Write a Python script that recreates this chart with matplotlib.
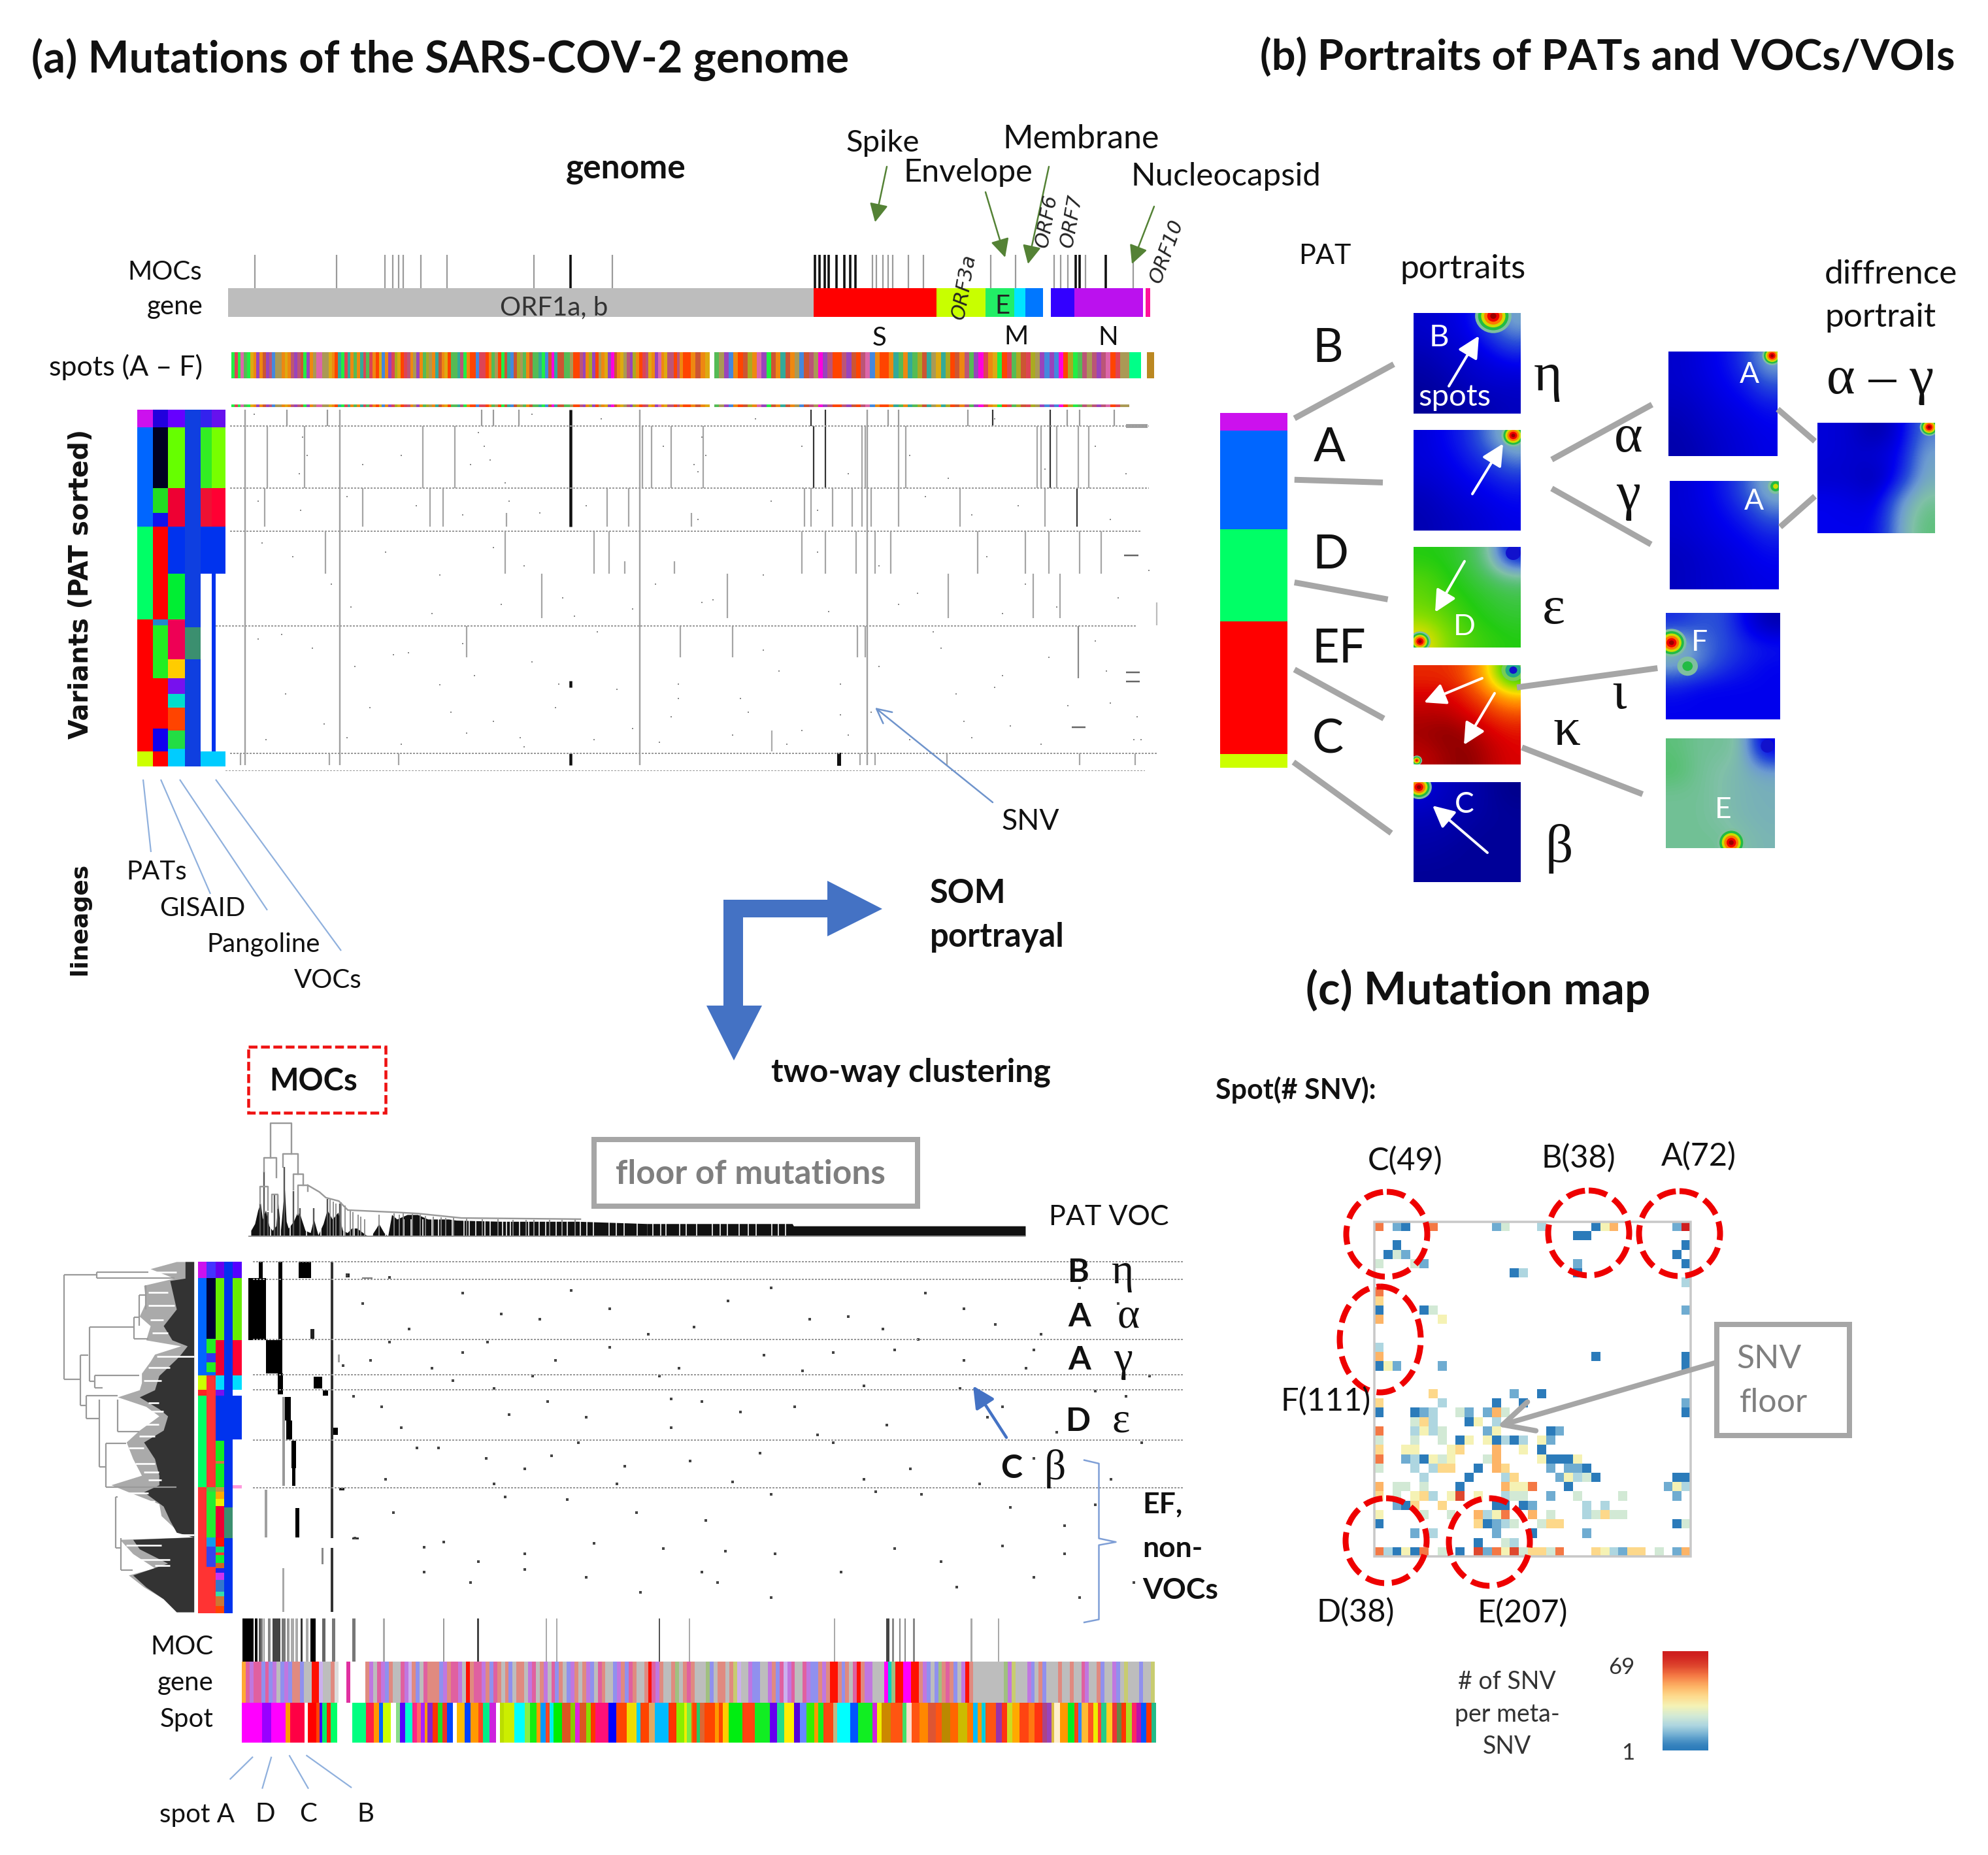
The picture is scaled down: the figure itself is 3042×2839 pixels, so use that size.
import numpy as np
import matplotlib
matplotlib.use("Agg")
import matplotlib.pyplot as plt
from matplotlib.colors import LinearSegmentedColormap
from matplotlib.patches import Ellipse, Rectangle, Polygon, FancyArrowPatch, Circle

W, H = 3042, 2839
PT = 0.72  # pixel -> point at dpi 100

# ---------- (a) genome tracks (read units along the genome) ----------
gene_edges = [(296, 1055), (1055, 1215), (1215, 1278), (1278, 1316), (1316, 1330), (1330, 1353), (1363, 1394), (1394, 1483), (1486, 1492)]
gene_colors = ["#bdbdbd", "#ff0000", "#c8ff00", "#22ee66", "#00e5ff", "#0077ff", "#3300ff", "#bb11ee", "#ff1199"]
moc_thin = [331, 437, 499, 510, 517, 523, 546, 580, 693, 794, 1132, 1137, 1145, 1152, 1158, 1178, 1198, 1285, 1317, 1367, 1376, 1385, 1408, 1470]
moc_dark = [740, 1057, 1063, 1070, 1075, 1085, 1095, 1103, 1110, 1395, 1400, 1434]

spot_palette = dict(o="#ee8811", n="#55bb55", r="#dd4455", t="#33aa99", b="#4488dd", v="#9944bb", m="#ff00dd",
                    y="#aaaa22", p="#dd66aa", g="#22ee44", k="#aa9955", d="#cc5533", u="#bb5577", a="#ddaa11", e="#ff4400")
spots_left = "grgpngaovodvubkkoaouvudgvokppkkaoetgrtonotrnroeabovryaeruokvonykotdoaenntugoeebrreonkegdtbdyknodnntgbdmtddnnkeeuvoyvekoavmdoakuvyoeruaovpoauueuoe"
spots_right = "eodoa.nkvboedyopvgdotdokbdukmvueeuvdeupboeeotnotnydtkatyedounvmroagernydrykvbvbmeygnukuvuperkk"
spots_end_colors = ["#00ff88", "#bb8822"]
spots_end_edges = [(1465, 1480), (1488, 1497)]

# ---------- (a) SNV heatmap, genome column vs variant row ----------
strip_edges = [(178, 198), (198, 218), (218, 240), (240, 260), (260, 275), (275, 292)]
strip_rows = [
    [(680, 718, "#cc11ee"), (718, 935, "#0066ff"), (935, 1137, "#00ff66"), (1137, 1425, "#ff0000"), (1425, 1458, "#ccff00")],
    [(680, 718, "#2200dd"), (718, 851, "#000022"), (851, 905, "#22dd22"), (905, 935, "#1111ee"), (935, 1137, "#ff0000"), (1137, 1150, "#2288cc"), (1150, 1265, "#22ee22"), (1265, 1375, "#ff0000"), (1375, 1425, "#1100ee"), (1425, 1458, "#ff0000")],
    [(680, 718, "#6600ff"), (718, 851, "#66ff00"), (851, 935, "#ee0033"), (935, 1037, "#0033ee"), (1037, 1137, "#00ee33"), (1137, 1225, "#ee0055"), (1225, 1265, "#ffcc00"), (1265, 1300, "#7711ee"), (1300, 1330, "#00ddcc"), (1330, 1380, "#ff4400"), (1380, 1420, "#22dd44"), (1420, 1458, "#00ccff")],
    [(680, 1155, "#0f3fe0"), (1155, 1225, "#3b8f6f"), (1225, 1458, "#0f3fe0")],
    [(680, 718, "#3322ee"), (718, 851, "#33ee22"), (851, 935, "#ee1133"), (935, 1037, "#0033ee"), (1425, 1458, "#00ccff")],
    [(680, 718, "#6611ee"), (718, 851, "#77ff00"), (851, 935, "#ff0033"), (935, 1037, "#0033ee"), (1037, 1425, "#0033ee"), (1425, 1458, "#00ccff")],
]
top_seps = [716, 851, 945, 1151, 1430, 1468]
full_cols = [318, 441, 830, 1125]
top_segments = [
    (680, 716, [372, 425, 625, 640, 673, 1152, 1165, 1255, 1384, 1400, 1445], "#9a9a9a"),
    (680, 716, [1052, 1070, 1287, 1362], "#333333"),
    (716, 851, [347, 395, 548, 590, 833, 845, 870, 912, 1118, 1122, 1165, 1175, 1345, 1350, 1370, 1398, 1412], "#a5a5a5"),
    (716, 851, [1055, 1070, 1362], "#333333"),
    (851, 935, [343, 470, 558, 575, 787, 815, 1043, 1052, 1080, 1105, 1118, 1130, 1165, 1245, 1355], "#a5a5a5"),
    (851, 935, [1397], "#333333"),
    (905, 935, [657, 897], "#a5a5a5"),
    (945, 1037, [422, 655, 770, 790, 1040, 1070, 1110, 1135, 1155, 1268, 1330, 1360, 1400, 1428], "#a5a5a5"),
    (1010, 1037, [810, 875], "#a5a5a5"),
    (1037, 1135, [703, 943, 1230, 1340, 1375], "#a5a5a5"),
    (1151, 1220, [605, 882, 950, 1112, 1122], "#a5a5a5"),
    (1151, 1265, [1398], "#888888"),
    (1380, 1425, [1001], "#aaaaaa"),
    (1100, 1150, [1500], "#bbbbbb"),
    (1430, 1455, [312, 427, 517, 1115, 1135, 1228, 1400, 1472], "#a5a5a5"),
]
black_col = [740]
black_spans = [(680, 935), (1430, 1455), (1272, 1285)]
black_col2 = [1088]
black_span2 = (1428, 1456)
top_dash_x = [1473, 1470, 1470, 1400, 1468]
top_dash_y = [716, 1253, 1273, 1373, 998]
top_speck_x = [330, 372, 395, 470, 520, 590, 610, 655, 690, 780, 860, 900, 980, 1040, 1100, 1180, 1230, 1290, 1345, 1420, 1460,
               335, 390, 450, 540, 600, 660, 700, 760, 905, 1000, 1060, 1200, 1260, 1320, 1440,
               340, 380, 430, 500, 570, 640, 680, 730, 770, 850, 910, 990, 1060, 1140, 1190, 1280, 1330, 1370, 1450, 1490,
               335, 405, 460, 530, 600, 690, 725, 880, 950, 1010, 1090, 1140, 1220, 1300, 1360, 1420,
               370, 480, 570, 640, 720, 800, 870, 960, 1040, 1130, 1240, 1310, 1440, 1480,
               345, 450, 520, 605, 680, 770, 855, 950, 1020, 1180, 1260, 1350, 1470,
               392, 398, 388, 620, 628, 636, 910, 915, 905, 1345, 1350, 1355, 455, 560, 650, 745, 820, 925, 1075, 1165, 1300,
               365, 510, 615, 775, 880, 990, 1090, 1210, 1290, 1435, 420, 585, 675, 820, 970, 1100, 1250, 1385, 1475]
top_speck_y = [690, 700, 760, 800, 780, 750, 800, 840, 690, 700, 760, 800, 700, 760, 820, 780, 830, 700, 780, 760, 820,
               880, 900, 870, 890, 910, 880, 905, 890, 920, 880, 900, 870, 910, 890, 920,
               970, 1000, 1060, 990, 1040, 980, 1020, 1090, 1000, 1060, 1100, 1040, 990, 1020, 1080, 1000, 1060, 1110, 1090, 1030,
               1180, 1200, 1240, 1210, 1190, 1230, 1278, 1278, 1195, 1250, 1278, 1240, 1200, 1260, 1220, 1185,
               1300, 1330, 1280, 1360, 1330, 1290, 1350, 1310, 1380, 1340, 1300, 1370, 1320, 1400,
               1400, 1395, 1410, 1385, 1415, 1400, 1405, 1390, 1410, 1400, 1395, 1410, 1400,
               740, 780, 820, 730, 760, 790, 740, 780, 815, 730, 770, 810, 1110, 1125, 1105, 1130, 1115, 1095, 1120, 1105, 1125,
               1170, 1215, 1260, 1165, 1310, 1205, 1345, 1165, 1285, 1250, 1365, 1340, 1395, 1375, 1340, 1390, 1360, 1325, 1350]

# ---------- (a) lower block: clustered SNV table ----------
low_strip_edges = [(698, 738), (738, 778), (778, 818), (818, 858), (858, 900)]
low_strip_rows = [
    [(30, 100, "#cc11ee"), (100, 510, "#0066ff"), (510, 570, "#ccff00"), (570, 595, "#ff2222"), (595, 980, "#00ff66"), (980, 1510, "#ff3333")],
    [(30, 100, "#4433ff"), (100, 355, "#000033"), (355, 415, "#22ee22"), (415, 455, "#3333ee"), (455, 495, "#22ee22"), (495, 510, "#0066ff"), (510, 980, "#ff3333"), (980, 1000, "#44cc44"), (1000, 1190, "#22ee33"), (1190, 1230, "#1199ee"), (1230, 1315, "#3344ee"), (1315, 1510, "#ff3333")],
    [(30, 100, "#6600ee"), (100, 360, "#66ee00"), (360, 510, "#ee0033"), (510, 570, "#00ddff"), (570, 595, "#7711ee"), (595, 785, "#0033ee"), (785, 870, "#11ee22"), (870, 880, "#cc7744"), (880, 980, "#11ee22"), (980, 1000, "#bb9944"), (1000, 1030, "#ffaa00"), (1030, 1060, "#eeee00"), (1060, 1190, "#ee0033"), (1190, 1230, "#ff1100"), (1230, 1255, "#11dd66"), (1255, 1265, "#ff3333"), (1265, 1300, "#11ee33"), (1300, 1320, "#cc6622"), (1320, 1340, "#2222ee"), (1340, 1370, "#cc33ee"), (1370, 1420, "#3377cc"), (1420, 1440, "#33ddaa"), (1440, 1480, "#cc7733"), (1480, 1510, "#ff4400")],
    [(30, 1065, "#0033ee"), (1065, 1195, "#3b8f6f"), (1195, 1510, "#0033ee")],
    [(30, 100, "#5500ff"), (100, 360, "#66ee00"), (360, 510, "#ff0033"), (510, 570, "#00ddff"), (595, 780, "#0033ee"), (970, 985, "#ff99dd")],
]
low_seps = [30, 105, 358, 505, 570, 782, 982]
low_blocks = [
    (930, 1010, 100, 360, "black"), (1010, 1085, 360, 500, "black"), (978, 996, 30, 100, "black"), (1068, 1086, 30, 360, "black"),
    (1160, 1218, 30, 100, "black"), (1063, 1088, 500, 590, "black"), (1090, 1125, 600, 700, "black"), (1102, 1130, 700, 780, "black"),
    (1128, 1148, 785, 900, "black"), (1130, 1146, 900, 975, "black"), (1230, 1268, 515, 565, "black"), (1272, 1295, 572, 595, "black"),
    (1215, 1232, 315, 355, "#222222"), (1310, 1340, 730, 760, "black"), (1145, 1162, 1068, 1192, "black"),
    (1085, 1097, 600, 975, "#999999"), (1005, 1015, 990, 1190, "#a0a0a0"), (1085, 1093, 1320, 1505, "#a8a8a8"), (1265, 1275, 1235, 1305, "#888888"),
    (1306, 1320, 30, 1195, "#333333"), (1306, 1320, 1235, 1505, "#333333"), (1340, 1348, 420, 455, "#a0a0a0"),
    (1345, 1370, 982, 994, "#222222"), (1405, 1435, 1190, 1200, "#333333"), (1450, 1500, 96, 102, "#777777"), (1375, 1395, 80, 95, "#222222"),
]
low_speck_x = [450, 505, 600, 700, 790, 944, 1050, 1145, 1250, 1350, 1450, 445, 505, 560, 632, 720, 855, 1080, 1190, 1250, 1340, 1490,
               458, 495, 587, 640, 710, 760, 870, 910, 1030, 1120, 1245, 1300, 1420, 1460,
               540, 568, 630, 680, 715, 810, 895, 985, 1080, 1180, 1340, 1480,
               510, 655, 735, 825, 915, 1000, 1135, 1195, 1310, 1380, 1420,
               460, 550, 575, 620, 680, 770, 860, 940, 1005, 1160, 1220, 1300, 1380,
               550, 610, 680, 760, 830, 910, 930, 1000, 1090, 1240, 1340, 1400, 1470,
               470, 530, 650, 740, 840, 900, 1000, 1100, 1200, 1290, 1400, 480, 600, 690, 790, 880, 990, 1040, 1160, 1330,
               520, 660, 750, 870, 960, 1060, 1150, 1280, 1370, 500, 640, 800, 950, 1120, 1270, 1440]
low_speck_y = [445, 450, 480, 530, 510, 495, 530, 550, 510, 560, 500, 620, 575, 625, 575, 610, 640, 595, 570, 610, 590, 640,
               680, 700, 650, 665, 690, 720, 685, 690, 700, 660, 665, 700, 670, 680,
               780, 780, 800, 820, 795, 815, 805, 790, 770, 820, 800, 770,
               905, 875, 880, 905, 920, 870, 865, 870, 895, 930, 890,
               955, 972, 962, 1000, 985, 965, 975, 980, 985, 975, 1000, 970, 985,
               1020, 1040, 1015, 1030, 1060, 1020, 1040, 1070, 1020, 1050, 1030, 1070, 1040,
               500, 550, 520, 475, 560, 545, 470, 525, 480, 540, 470, 610, 595, 640, 585, 625, 600, 630, 590, 625,
               740, 715, 770, 740, 710, 755, 735, 720, 750, 840, 850, 850, 845, 840, 850, 840]

top_dend_x = [35, 50, 62, 72, 80, 92, 105, 118, 132, 140, 150, 165, 172, 180, 200, 215, 225, 245, 265, 278, 295, 315, 330, 350, 372, 390, 408, 425, 445, 480, 500, 520, 530, 550, 565, 580, 600, 640, 680, 720, 800, 830, 1000, 1300, 1568]
top_dend_y = [520, 490, 430, 400, 470, 430, 500, 520, 500, 400, 520, 330, 480, 510, 480, 440, 450, 520, 530, 470, 540, 490, 430, 470, 440, 520, 530, 510, 510, 540, 545, 510, 490, 530, 545, 450, 470, 450, 450, 470, 470, 475, 480, 480, 490]
top_dend_gaps = [112, 148, 188, 250, 305, 395, 435, 490, 505, 555, 628, 655, 700, 735, 760, 815, 860, 880, 905, 940, 960, 1010, 1025, 1040, 1075, 1110, 1130, 1150, 1175, 1215, 1240, 1260, 1310, 1335, 1360, 1420, 1450, 1480, 1530,
                 1590, 1620, 1640, 1695, 1720, 1760, 1820, 1850, 1880, 1925, 1960, 1990, 2050, 2075, 2105]
td_ext_x = [1568, 2130, 2135, 3032]
td_ext_y = [490, 490, 500, 500]
dend_links_x = [[110, 110, 192, 192], [85, 85, 135, 135], [160, 160, 218, 218], [200, 200, 238, 238], [70, 70, 100, 100], [115, 115, 140, 140], [218, 218, 255, 255]]
dend_links_y = [[200, 45, 45, 183], [260, 200, 200, 285], [240, 183, 183, 270], [340, 270, 270, 320], [400, 325, 325, 430], [440, 362, 362, 420], [450, 320, 320, 345]]
dend_tail_x = [255, 300, 325, 375, 410, 600, 680, 850, 1310]
dend_tail_y = [320, 350, 375, 390, 430, 440, 445, 465, 470]
dend_spike_x = [70, 85, 100, 125, 140, 165, 200, 225, 278, 330, 380]
dend_spike_top = [400, 260, 440, 362, 365, 240, 345, 420, 420, 380, 400]
dend_hair_x = [340, 355, 365, 385, 400, 420, 430, 450, 460, 475, 530, 590, 610, 625, 660, 690, 710, 740, 770, 790, 820, 870, 930, 990, 1050, 1100, 1130, 1190, 1240, 1290]
dend_hair_top = [385, 392, 400, 395, 410, 430, 440, 450, 460, 470, 450, 445, 450, 445, 447, 450, 455, 460, 462, 465, 466, 468, 470, 470, 472, 472, 472, 472, 472, 472]

left_dend_y = [30, 60, 100, 130, 200, 260, 300, 360, 385, 420, 450, 500, 540, 570, 600, 640, 680, 740, 790, 860, 930, 970, 1000, 1050, 1100, 1160, 1190, 1200, 1260, 1320, 1350, 1400, 1450, 1505]
left_dend_x = [600, 480, 590, 450, 460, 430, 480, 460, 620, 500, 480, 440, 440, 430, 330, 460, 520, 430, 370, 400, 440, 300, 380, 520, 530, 600, 670, 340, 400, 500, 380, 450, 540, 600]
left_core_y = [30, 100, 110, 230, 300, 360, 385, 420, 440, 510, 570, 600, 650, 680, 740, 790, 860, 930, 970, 1000, 1060, 1120, 1170, 1190, 1200, 1240, 1300, 1350, 1400, 1450, 1505]
left_core_x = [640, 640, 570, 600, 540, 580, 650, 620, 600, 520, 500, 430, 520, 560, 540, 450, 500, 520, 520, 450, 540, 570, 600, 680, 400, 430, 560, 400, 460, 540, 600]
left_streak_y = [75, 160, 215, 275, 330, 430, 475, 530, 625, 660, 715, 765, 815, 880, 915, 950, 1005, 1040, 1180, 1225, 1285, 1310]
left_streak_x0 = [480, 470, 470, 480, 490, 510, 470, 450, 470, 480, 450, 430, 380, 410, 450, 470, 350, 370, 600, 370, 430, 500]
left_streak_x1 = [600, 560, 590, 540, 560, 680, 570, 530, 520, 540, 520, 500, 450, 500, 520, 530, 470, 500, 680, 530, 570, 570]
left_links = [
    (85, 85, 525), (235, 75, 100), (160, 425, 635), (200, 305, 535), (405, 265, 355), (430, 170, 300), (225, 510, 560),
    (185, 595, 690), (245, 610, 895), (330, 610, 745), (275, 795, 980), (320, 1020, 1235), (345, 1195, 1330), (460, 130, 230),
]
left_hlinks = [(85, 235, 85), (85, 160, 525), (235, 470, 75), (235, 590, 100), (160, 195, 425), (160, 185, 635), (200, 405, 305), (200, 225, 535),
               (405, 430, 265), (405, 470, 355), (225, 430, 510), (225, 260, 560), (185, 330, 595), (185, 245, 690), (245, 275, 895),
               (330, 430, 745), (275, 370, 795), (275, 600, 980), (320, 345, 1235), (345, 400, 1330), (320, 330, 1020), (430, 460, 170)]

moc2_a_edges = [(25, 60), (65, 75), (78, 84), (86, 92), (94, 98), (110, 118), (125, 150), (155, 168), (172, 180), (185, 195), (200, 210), (218, 225), (235, 245), (250, 268), (290, 300), (323, 333), (390, 400), (492, 498), (692, 698), (806, 812), (1035, 1040), (1070, 1075), (1412, 1417), (1512, 1517)]
moc2_a_gray = ["black", "black", "#555", "#777", "#999", "#888", "#444", "#777", "#999", "#aaa", "#aaa", "#333", "#aaa", "black", "#666", "#777", "#777", "#aaa", "#999", "#444", "#aaa", "#aaa", "#555", "#aaa"]
moc2_b_edges = [(470, 474), (645, 655), (665, 672), (688, 693), (705, 710), (735, 740), (925, 932), (1017, 1022)]
moc2_b_gray = ["#aaa", "#444", "#888", "#888", "#888", "#888", "#aaa", "#aaa"]

gene2_palette = dict(a="#bdbdbd", p="#e060a0", v="#c077e0", s="#e08a80", b="#9090ee", g="#a0c080", y="#c8cc70", l="#cbb0ee",
                     r="#ff1100", m="#ff00ff", c="#00d0c0", o="#ffaa33", w="#dddddd", q="#e030a0", k="#77ccb0")
gene2_left = "opvppbpbvabvbssbaarrlaasw..q...."
gene2_mid = "svapvbsaapvlsbapsssbvsppvarsppvsbpsasbassavpasvapbsabvsasvbapsaabvsbpsaasrpvsaasgaspsaaagbassasylaavbbaavsbplvp"
gene2_right = "aapvbbsvsrrsbsaprsvvaaamcgrrmmrrsvbabgspsbavrsaaaaaaaagvyaaavbasbaaasaasaapvaasbaavbayaaabaay"

low_spot_a = [(22, 90, "#ff00ff"), (90, 120, "#9900ff"), (120, 168, "#ff00ff"), (168, 182, "#ff9900"), (182, 232, "#ff0044"), (232, 242, "#ffffff"), (242, 270, "#ff0000"), (270, 280, "#ff4400"), (280, 290, "#4400ff"), (290, 305, "#00ee66"), (305, 318, "#ff2200"), (318, 340, "#00ff66"), (390, 436, "#00ff80"), (436, 462, "#ff2244"), (462, 480, "#ff9900"), (480, 492, "#0066ff"), (492, 518, "#ccff00"), (518, 535, "#ffffff"), (535, 550, "#88dd88"), (550, 566, "#5500ff"), (566, 590, "#00ffcc"), (590, 606, "#ff2288"), (606, 618, "#ff6666"), (618, 632, "#aa22ff"), (632, 640, "#ff9900"), (640, 658, "#8822cc"), (658, 675, "#ff3300"), (675, 690, "#22dd22"), (690, 706, "#ee3322"), (706, 726, "#0044ff"), (726, 738, "#ffffff"), (738, 765, "#ffbb00"), (765, 785, "#0044ff"), (785, 810, "#ff9900"), (810, 826, "#ff4422"), (826, 848, "#00ee88"), (848, 870, "#cc22dd"), (870, 882, "#ffffff"), (882, 895, "#bbdd00"), (895, 930, "#ccee00"), (930, 965, "#00ffff"), (965, 982, "#88ee44"), (982, 1005, "#11ee11"), (1005, 1018, "#ff9900"), (1018, 1034, "#0099ff"), (1034, 1048, "#ff4422"), (1048, 1062, "#00eeee"), (1062, 1090, "#00ee00"), (1090, 1118, "#dd5522"), (1118, 1132, "#88cc00"), (1132, 1148, "#dd22dd"), (1148, 1170, "#dd5522"), (1170, 1185, "#88dd00"), (1185, 1200, "#ff3300"), (1200, 1245, "#ff1177"), (1245, 1270, "#0000ff"), (1270, 1305, "#ff4400"), (1305, 1338, "#eedd00"), (1338, 1350, "#00ccff"), (1350, 1380, "#ff4400"), (1380, 1398, "#ddaa66"), (1398, 1445, "#00bbff"), (1445, 1470, "#ff3300"), (1470, 1496, "#88ee00"), (1496, 1505, "#eeee00"), (1505, 1520, "#77ee44"), (1520, 1535, "#ff6600"), (1535, 1550, "#00bb88")]
low_spot_b = [(0, 14, "#ff4400"), (14, 24, "#22cc66"), (24, 40, "#dd6633"), (40, 75, "#ff4400"), (75, 88, "#ff9900"), (88, 100, "#ff4400"), (100, 120, "#ffcc00"), (120, 165, "#00ee11"), (165, 208, "#ff4411"), (208, 258, "#11ee22"), (258, 282, "#6600ee"), (282, 305, "#22dd88"), (305, 338, "#ffee00"), (338, 358, "#5500dd"), (358, 378, "#6688ff"), (378, 405, "#33ee00"), (405, 418, "#ff9900"), (418, 435, "#11ee22"), (435, 468, "#ff4411"), (468, 482, "#bbbb88"), (482, 525, "#00ffff"), (525, 552, "#0055ff"), (552, 600, "#11ee22"), (600, 615, "#cc22dd"), (615, 630, "#eeee00"), (630, 660, "#cc8800"), (660, 700, "#ff5511"), (700, 712, "#44dd66"), (712, 730, "#ffddcc"), (730, 755, "#ff5511"), (755, 785, "#ff8800"), (785, 810, "#dd5533"), (810, 830, "#ff5511"), (830, 858, "#bb8800"), (858, 885, "#ff6600"), (885, 915, "#ccbb00"), (915, 935, "#ff7700"), (935, 950, "#00bbff"), (950, 962, "#ff9900"), (962, 975, "#00ccdd"), (975, 1010, "#ff5511"), (1010, 1030, "#9933aa"), (1030, 1048, "#ff3311"), (1048, 1065, "#ccdd22"), (1065, 1090, "#ffaa00"), (1090, 1120, "#ff4411"), (1120, 1140, "#ff7711"), (1140, 1165, "#ff3311"), (1165, 1180, "#aa4488"), (1180, 1195, "#9944bb"), (1195, 1205, "#ddbb44"), (1205, 1225, "#ffeecc"), (1225, 1250, "#ff9900"), (1250, 1272, "#00ee22"), (1272, 1285, "#ff4411"), (1285, 1297, "#3388ff"), (1297, 1318, "#ffbb33"), (1318, 1335, "#ff5522"), (1335, 1350, "#eeee00"), (1350, 1362, "#ff4433"), (1362, 1378, "#22cc88"), (1378, 1398, "#ffcc22"), (1398, 1415, "#ee3333"), (1415, 1430, "#668844"), (1430, 1445, "#ff3300"), (1445, 1465, "#aadd22"), (1465, 1480, "#ff2266"), (1480, 1495, "#bb11aa"), (1495, 1512, "#0055ff"), (1512, 1530, "#ff3300"), (1530, 1545, "#22bb88")]

# ---------- (b) portraits: coarse value grids and spots ----------
portrait_boxes = dict(B=(2163, 479, 2327, 633), A=(2163, 658, 2327, 812), D=(2163, 837, 2327, 991), EF=(2163, 1018, 2327, 1170), C=(2163, 1197, 2327, 1350),
                      alpha=(2553, 538, 2720, 698), gamma=(2555, 736, 2722, 902), F=(2549, 938, 2724, 1101), E=(2549, 1130, 2716, 1298), diff=(2781, 647, 2961, 816))
portrait_grids = dict(
    B=[[.10, .12, .15, .25, .35], [.08, .10, .12, .18, .25], [.05, .08, .10, .12, .15], [.03, .05, .08, .10, .10], [.02, .03, .05, .06, .08]],
    A=[[.12, .16, .20, .30, .40], [.12, .14, .18, .22, .30], [.10, .12, .15, .17, .20], [.07, .10, .12, .14, .16], [.06, .08, .10, .12, .14]],
    D=[[.55, .54, .50, .42, .16], [.60, .56, .52, .48, .44], [.62, .58, .55, .52, .50], [.66, .62, .57, .54, .52], [.76, .66, .60, .57, .55]],
    EF=[[.90, .90, .87, .78, .50], [.93, .93, .90, .86, .80], [.96, .96, .93, .90, .88], [.98, 1.0, .98, .94, .92], [.95, .98, 1.0, .96, .93]],
    C=[[.12, .08, .06, .03, .00], [.08, .06, .05, .03, .02], [.05, .05, .03, .02, .02], [.04, .03, .02, .02, .02], [.02, .02, .02, .02, .02]],
    alpha=[[.10, .13, .16, .22, .36], [.10, .12, .15, .18, .26], [.08, .10, .13, .15, .18], [.06, .09, .11, .13, .15], [.05, .07, .10, .12, .14]],
    gamma=[[.11, .14, .18, .26, .38], [.11, .13, .16, .20, .28], [.10, .12, .14, .16, .19], [.08, .10, .12, .14, .16], [.08, .10, .11, .13, .14]],
    F=[[.20, .25, .25, .14, .05], [.42, .30, .25, .20, .18], [.35, .30, .22, .18, .15], [.18, .15, .15, .15, .15], [.15, .15, .15, .15, .15]],
    E=[[.45, .42, .42, .40, .12], [.47, .42, .40, .38, .35], [.42, .42, .40, .38, .37], [.42, .42, .40, .38, .37], [.42, .42, .42, .40, .38]],
    diff=[[.12, .10, .04, .12, .30], [.12, .10, .12, .15, .35], [.10, .10, .05, .18, .36], [.15, .13, .12, .32, .42], [.15, .15, .15, .35, .45]],
)
hot_rings = ["#7fbf9f", "#22bb44", "#ccdd00", "#ff7700", "#ee0000", "#990000"]
cool_rings = ["#77cc55", "#22aa88", "#1111cc"]
portrait_spots = dict(
    B=[(.744, .03, .17, 6)], A=[(.93, .055, .11, 6)], D=[(.06, .94, .10, 6), (.93, .06, .07, -1)], EF=[(.93, .05, .11, -3), (.03, .96, .05, 5)],
    C=[(.05, .05, .12, 6)], alpha=[(.95, .04, .09, 6)], gamma=[(.97, .05, .07, 3)], F=[(.05, .28, .13, 6), (.19, .5, .09, 2)],
    E=[(.6, .95, .13, 6), (.93, .07, .06, -1)], diff=[(.95, .04, .08, 6)],
)
pat_edges = [632, 659, 810, 951, 1154, 1175]
pat_colors = ["#cc11ee", "#0066ff", "#00ff66", "#ff0000", "#ccff00"]

# ---------- (c) mutation map: row, column, number of SNV per meta-SNV ----------
lv = dict(b=1, m=12, l=21, g=28, y=35, o=42, O=48, r=56, R=62, X=69)
map_table = {
    0: "0r 2m 3b 6r 13m 14g 18l 24b 25y 26O 33m 34X", 1: "22b 23b", 2: "2b 34b", 3: "1b 2g 3m 33b", 4: "0g 4g 5m 22m 34b", 5: "15b 16l 22b",
    6: "34l", 7: "0r", 8: "0o", 9: "0b 5b 6g 34m", 10: "0O 7y", 13: "0l", 14: "0O 24b 34b", 15: "0b 1y 2m 7m 34b",
    18: "6o 15m 18b", 19: "0o 7l 13b 16b 34m", 20: "0b 4b 5m 6l 9g 10m 12m 13O 14g 34b", 21: "4g 5o 6l 10b 11y 13l",
    22: "0r 4l 5y 6l 7g 12m 13y 19b 20m", 23: "0g 4g 7g 9b 10y 12y 13b 14l 15b 16l 18y 19m", 24: "0o 3y 4y 8y 9o 13O 16y 18b",
    25: "0r 3m 4l 5b 6y 7g 8y 12g 13O 18y 19b 20b 21b 22y", 26: "0g 4l 6l 7o 8o 11b 13O 14o 19m 21m 22m 23b",
    27: "5l 10b 14l 15o 20m 21y 22l 23g 24b 33b 34b", 28: "0O 2g 3g 5g 9b 14O 15y 16y 17r 21b 32m 33y 34l",
    29: "0o 2g 4y 5o 6l 8y 9R 11y 14l 15g 16g 19m 22g 27g 33m", 30: "2m 3b 4o 7o 13b 14b 16b 17m 23l 25l",
    31: "0y 5g 8g 11O 12l 13y 14r 17O 19g 23l 24g 25o 26g 27g", 32: "0b 11o 12b 13m 14l 15g 18g 19o 20o 33b 34g",
    33: "4m 6l 13m 17b 23m", 34: "11b 14g 15l", 35: "0r 1l 2b 3y 4b 5r 7g 9b 11R 12m 13r 14y 15R 16g 17o 18o 19g 20r 24o 25y 26l 27m 28o 29o 31g 33m 34O",
}
map_colors = ["#2b7bba", "#70add2", "#aed6e0", "#d3ead5", "#f5f3b5", "#fed98b", "#fdb466", "#f57a45", "#e0492f", "#cf1e1e"]
map_levels = [1, 12, 21, 28, 35, 42, 48, 56, 62, 69]
map_nrows, map_ncols = 36, 35
circle_spec = [(2122, 1889, 62, 65), (2431, 1887, 62, 65), (2570, 1888, 62, 65), (2112, 2050, 62, 81), (2121, 2358, 62, 65), (2279, 2360, 62, 67)]

# ---------- drawing helpers ----------
plt.rcParams["font.family"] = ["Lato", "DejaVu Sans"]
fig = plt.figure(figsize=(W / 100, H / 100), dpi=100, facecolor="white")


def panel(x0, y0, x1, y1, xlim, ylim, z=1):
    a = fig.add_axes([x0 / W, 1 - y1 / H, (x1 - x0) / W, (y1 - y0) / H], zorder=z)
    a.set_xlim(*xlim)
    a.set_ylim(*ylim)
    a.axis("off")
    return a


ax = fig.add_axes([0, 0, 1, 1], zorder=10)
ax.set_xlim(0, W)
ax.set_ylim(H, 0)
ax.axis("off")
ax.patch.set_alpha(0)


def T(x, y, s, size=34, weight="normal", color="#111111", ha="center", va="center", rot=0, family=None, style="normal"):
    ax.text(x, y + (4 if rot == 0 else 0), s, fontsize=size, fontweight=weight, color=color, ha=ha, va=va, rotation=rot,
            family=family if family else ["Lato", "DejaVu Sans"], fontstyle=style)


def L(pts, color="#a6a6a6", px=8):
    xs, ys = zip(*pts)
    ax.plot(xs, ys, color=color, lw=px * PT, solid_capstyle="butt")


def ARW(p0, p1, color, px=3, head=16, style="-|>"):
    ax.add_patch(FancyArrowPatch(p0, p1, arrowstyle=f"{style},head_length={head * PT},head_width={head * PT * 0.5}",
                                 color=color, lw=px * PT, shrinkA=0, shrinkB=0, mutation_scale=1))


def stripes(a, edges, colors, y0, y1):
    for (x0, x1), c in zip(edges, colors):
        a.add_patch(Rectangle((x0, y0), x1 - x0, y1 - y0, facecolor=c, edgecolor="none"))


def letter_stripes(a, text, palette, x0, x1, y0, y1):
    w = (x1 - x0) / len(text)
    for i, ch in enumerate(text):
        if ch != ".":
            a.add_patch(Rectangle((x0 + i * w, y0), w, y1 - y0, facecolor=palette[ch], edgecolor="none", lw=0))


def z1(x, y): return (1.18 * x, 150 + 0.7015 * y)
def z2(x, y): return (1850 + 0.76 * x, 300 + 0.7015 * y)
def z3(x, y): return (1.18 * x, 1600 + 0.79 * y)


# ---------- titles ----------
T(48, 88, "(a) Mutations of the SARS-COV-2 genome", 48, "bold", ha="left")
T(1928, 83, "(b) Portraits of PATs and VOCs/VOIs", 46.5, "bold", ha="left")
T(1998, 1512, "(c) Mutation map", 50, "bold", ha="left")

# ---------- genome tracks ----------
gp = panel(349, 385, 1766, 490, (296, 1497), (490, 385))
stripes(gp, gene_edges, gene_colors, 441, 485)
gp.vlines(moc_thin, 390, 441, color="#9a9a9a", lw=2.2 * PT)
gp.vlines(moc_dark, 390, 441, color="#111111", lw=3.6 * PT)
T(*z1(718, 452), "ORF1a, b", 29, color="#333333")
T(*z1(1300, 448), "E", 29, color="#222222")
for x, y, s in [(1140, 518, "S"), (1318, 515, "M"), (1437, 517, "N")]:
    T(*z1(x, y), s, 29)
T(309, 413, "MOCs", 29, ha="right")
T(311, 466, "gene", 29, ha="right")
T(310, 558, "spots (A – F)", 31, ha="right")
T(958, 255, "genome", 37, "bold")
T(1351, 215, "Spike", 34)
T(1654, 209, "Membrane", 36)
T(1481, 260, "Envelope", 35)
T(1876, 266, "Nucleocapsid", 35.5)
for p0, p1 in [((1357, 255), (1339, 340)), ((1508, 294), (1538, 394)), ((1605, 255), (1573, 404)), ((1766, 316), (1732, 404))]:
    ARW(p0, p1, "#548235", 2.5, 24)
for x, y, s, r in [(1475, 439, "ORF3a", 80), (1602, 338, "ORF6", 80), (1640, 338, "ORF7", 80), (1785, 384, "ORF10", 70)]:
    T(x, y, s, 22, color="#222222", rot=r, family="DejaVu Sans", style="italic")

sp = panel(354, 539, 1766, 579, (300, 1497), (1, 0))
letter_stripes(sp, spots_left, spot_palette, 300, 890, 0, 1)
letter_stripes(sp, spots_right, spot_palette, 890, 1465, 0, 1)
stripes(sp, spots_end_edges, spots_end_colors, 0, 1)
sp2 = panel(354, 619, 1766, 623, (300, 1497), (1, 0))
letter_stripes(sp2, spots_left, spot_palette, 300, 890, 0, 1)
letter_stripes(sp2, spots_right, spot_palette, 890, 1465, 0, 1)

# ---------- upper heatmap ----------
hs = panel(210, 627, 1790, 1180, (178, 1517), (1468, 680))
for (x0, x1), col in zip(strip_edges, strip_rows):
    for y0, y1, c in col:
        hs.add_patch(Rectangle((x0, y0), x1 - x0, y1 - y0, facecolor=c, edgecolor="none"))
hs.add_patch(Rectangle((260, 1037), 15, 388, facecolor="white", edgecolor="none"))
hs.add_patch(Rectangle((280, 1037), 12, 388, facecolor="white", edgecolor="none"))
hs.vlines(full_cols, 680, 1455, color="#a0a0a0", lw=2.4 * PT)
for y0, y1, cols, shade in top_segments:
    hs.vlines(cols, y0, y1, color=shade, lw=2.2 * PT)
for y0, y1 in black_spans:
    hs.vlines(black_col, y0, y1, color="#111111", lw=4.5 * PT)
hs.vlines(black_col2, *black_span2, color="#111111", lw=6 * PT)
hs.hlines(top_dash_y[1:], [x - 10 for x in top_dash_x[1:]], [x + 8 for x in top_dash_x[1:]], color="#666666", lw=2.5 * PT)
hs.hlines(top_dash_y[:1], 1460, 1488, color="#a0a0a0", lw=6 * PT)
hs.scatter(top_speck_x, top_speck_y, s=4, marker="s", color="#888888", linewidths=0)
hs.hlines(top_seps, [298, 298, 298, 280, 298, 292], [1490, 1490, 1480, 1475, 1500, 1485], color="#9a9a9a", lw=2 * PT, linestyles=(0, (1.5, 1)))
T(124, 894, "Variants (PAT sorted)", 28.5, "bold", rot=90, family="DejaVu Sans")
T(122, 1406, "lineages", 26, "bold", rot=90, family="DejaVu Sans")
for s, x, y in [("PATs", 240, 1331), ("GISAID", 310, 1387), ("Pangoline", 403, 1441), ("VOCs", 502, 1496)]:
    T(x, y, s, 29)
for p0, p1 in [((219, 1193), (231, 1304)), ((246, 1193), (322, 1368)), ((275, 1193), (409, 1393)), ((330, 1193), (522, 1455))]:
    L([p0, p1], "#8fb0dd", 2.2)
T(1577, 1253, "SNV", 32)
ARW((1519, 1228), (1339, 1083), "#6f94cc", 2.5, 22, "->")

# ---------- elbow arrow ----------
ax.add_patch(Polygon([(1107, 1539), (1081, 1539), (1123, 1623), (1166, 1539), (1137, 1539), (1137, 1404), (1266, 1404), (1266, 1433), (1350, 1391), (1266, 1348), (1266, 1377), (1107, 1377)],
                     closed=True, facecolor="#4472c4", edgecolor="none"))
T(1423, 1363, "SOM", 36.5, "bold", ha="left")
T(1423, 1430, "portrayal", 36.5, "bold", ha="left")
T(1180, 1637, "two-way clustering", 36, "bold", ha="left")

# ---------- lower block ----------
ax.add_patch(Rectangle((380, 1602), 210, 101, fill=False, edgecolor="#ee1111", lw=4.5 * PT, linestyle=(0, (3, 1.2))))
T(480, 1651, "MOCs", 34, "bold")
ax.add_patch(Rectangle((909, 1744), 495, 102, facecolor="white", edgecolor="#a6a6a6", lw=8 * PT))
T(1148, 1794, "floor of mutations", 37, "bold", color="#7f7f7f")
T(1697, 1859, "PAT VOC", 31)

td = panel(380, 1710, 1600, 1897, (25, 25 + 1220 / 0.3954), (560, 20))
base = 545
td.fill_between(top_dend_x, top_dend_y, base, color="#111111", lw=0)
td.fill_between(td_ext_x, td_ext_y, base, color="#111111", lw=0)
td.vlines(top_dend_gaps, 470, base, color="white", lw=1.6 * PT)
td.vlines(dend_spike_x, dend_spike_top, base, color="#555555", lw=2.4 * PT)
td.vlines(dend_hair_x, dend_hair_top, base, color="#888888", lw=1.8 * PT)
for xs, ys in zip(dend_links_x, dend_links_y):
    td.plot(xs, ys, color="#999999", lw=2.4 * PT)
td.plot(dend_tail_x, dend_tail_y, color="#999999", lw=2.4 * PT)
td.hlines(base, 25, 3032, color="#999999", lw=2 * PT)

ld = panel(70, 1920, 300, 2475, (0, 690), (1527, 0))
ld.fill_betweenx(left_dend_y, left_dend_x, 680, color="#aaaaaa", lw=0)
ld.fill_betweenx(left_core_y, left_core_x, 680, color="#333333", lw=0)
ld.hlines(left_streak_y, left_streak_x0, left_streak_x1, color="white", lw=2.6 * PT)
for x, y0, y1 in left_links:
    ld.vlines(x, y0, y1, color="#999999", lw=2.2 * PT)
for x0, x1, y in left_hlinks:
    ld.hlines(y, x0, x1, color="#999999", lw=2.2 * PT)

lh = panel(303, 1920, 1810, 2475, (698, 698 + (1810 - 303) * 3), (1527, 0))
for (x0, x1), col in zip(low_strip_edges, low_strip_rows):
    for y0, y1, c in col:
        lh.add_patch(Rectangle((x0, y0), x1 - x0, y1 - y0, facecolor=c, edgecolor="none"))
for x0, x1, y0, y1, c in low_blocks:
    lh.add_patch(Rectangle((x0, y0), x1 - x0, y1 - y0, facecolor=c, edgecolor="none"))
lz_x = [(1.18 * x - 70) * 3 for x in low_speck_x]
lz_y = [(1600 + 0.79 * y - 1920) / 0.3635 for y in low_speck_y]
lh.scatter(lz_x, lz_y, s=5, marker="s", color="#444444", linewidths=0)
lh.hlines(low_seps, 950, 5220, color="#999999", lw=2 * PT, linestyles=(0, (1.5, 1)))

for (x1, x2, y, a_, g_) in [(1650, 1718, 1944, "B", "η"), (1652, 1727, 2012, "A", "α"), (1652, 1718, 2078, "A", "γ"), (1650, 1715, 2172, "D", "ε"), (1548, 1614, 2244, "C", "β")]:
    T(x1, y, a_, 36, "bold")
    T(x2, y, g_, 47, family="Liberation Serif")
T(1748, 2299, "EF,", 32, "bold", ha="left")
T(1748, 2366, "non-", 32, "bold", ha="left")
T(1748, 2430, "VOCs", 32, "bold", ha="left")
ARW((1540, 2200), (1489, 2121), "#4472c4", 4.5, 28)
bx = [(1405, 803), (1425, 810), (1425, 955), (1447, 962), (1425, 968), (1425, 1112), (1405, 1118)]
L([z3(*p) for p in bx], "#7f9fd6", 2.5)

ms = panel(360, 2477, 1780, 2543, (360, 1780), (1, 0))
for (x0, x1), c in zip(moc2_a_edges, moc2_a_gray):
    ms.add_patch(Rectangle((360 + x0 * .459, 0), (x1 - x0) * .459, 1, facecolor=c, edgecolor="none"))
for (x0, x1), c in zip(moc2_b_edges, moc2_b_gray):
    ms.add_patch(Rectangle((1060 + x0 * .459, 0), (x1 - x0) * .459, 1, facecolor=c, edgecolor="none"))

gs = panel(360, 2543, 1780, 2606, (360, 1780), (1, 0))
letter_stripes(gs, gene2_left + gene2_mid + gene2_right, gene2_palette, 370, 1767, 0, 1)

ss = panel(360, 2606, 1780, 2667, (360, 1780), (1, 0))
for x0, x1, c in low_spot_a:
    ss.add_patch(Rectangle((360 + x0 * .459, 0), (x1 - x0) * .459, 1, facecolor=c, edgecolor="none"))
for x0, x1, c in low_spot_b:
    ss.add_patch(Rectangle((1060 + x0 * .459, 0), (x1 - x0) * .459, 1, facecolor=c, edgecolor="none"))
T(327, 2516, "MOC", 29, ha="right")
T(327, 2572, "gene", 29, ha="right")
T(327, 2627, "Spot", 29, ha="right")
for x, s in [(301, "spot A"), (406, "D"), (472, "C"), (559, "B")]:
    T(x, 2773, s, 29)
for p0, p1 in [((328, 1378), (298, 1422)), ((352, 1378), (340, 1440)), ((375, 1375), (400, 1440)), ((397, 1375), (456, 1438))]:
    L([z3(*p0), z3(*p1)], "#8fb0dd", 2.2)

# ---------- (b) ----------
pb = panel(1867, 632, 1970, 1175, (0, 1), (1175, 632))
for y0, y1, c in zip(pat_edges[:-1], pat_edges[1:], pat_colors):
    pb.add_patch(Rectangle((0, y0), 1, y1 - y0, facecolor=c, edgecolor="none"))
por_cmap = LinearSegmentedColormap.from_list("por", [(0, "#00008c"), (.15, "#0000ee"), (.25, "#2a50d8"), (.33, "#6d9cd0"), (.40, "#80c0a8"),
                                                     (.46, "#55c070"), (.55, "#22cc11"), (.66, "#88dd00"), (.76, "#ffdd00"), (.85, "#ff7700"), (.93, "#dd0000"), (1, "#880000")])
for name, (x0, y0, x1, y1) in portrait_boxes.items():
    a = panel(x0, y0, x1, y1, (0, 1), (1, 0), z=2)
    a.imshow(portrait_grids[name], cmap=por_cmap, vmin=0, vmax=1, extent=(0, 1, 1, 0), interpolation="bicubic", aspect="auto")
    a.set_xlim(0, 1)
    a.set_ylim(1, 0)
    for cx, cy, r, kind in portrait_spots[name]:
        rings = hot_rings[:kind] if kind > 0 else cool_rings[kind:]
        n = len(rings)
        for i, c in enumerate(rings):
            a.add_patch(Circle((cx, cy), r * (1 - i / n), facecolor=c, edgecolor="none"))

for pts in [((172, 485), (372, 367)), ((172, 619), (350, 625)), ((172, 843), (360, 880)), ((172, 1033), (352, 1140)), ((170, 1235), (367, 1390)),
            ((690, 575), (892, 455)), ((690, 638), (890, 760)), ((620, 1072), (903, 1030)), ((630, 1203), (873, 1305)),
            ((1145, 465), (1220, 535)), ((1150, 722), (1220, 655))]:
    L([z2(*pts[0]), z2(*pts[1])], "#a6a6a6", 9)

T(2027, 388, "PAT", 31)
T(2239, 408, "portraits", 37)
T(2893, 416, "diffrence", 37)
T(2877, 482, "portrait", 37)
T(2877, 578, "α – γ", 60, family="Liberation Serif")
for x, y, s in [(2032, 530, "B"), (2034, 681, "A"), (2036, 846, "D"), (2049, 989, "EF"), (2032, 1128, "C")]:
    T(x, y, s, 52)
for x, y, s in [(2369, 573, "η"), (2377, 930, "ε"), (2386, 1295, "β"), (2492, 667, "α"), (2492, 755, "γ"), (2477, 1060, "ι"), (2397, 1116, "κ")]:
    T(x, y, s, 60, family="Liberation Serif")
for x, y, s, fs in [(2202, 513, "B", 34), (2226, 604, "spots", 34), (2677, 570, "A", 32), (2684, 764, "A", 32), (2601, 980, "F", 32), (2637, 1236, "E", 32), (2241, 956, "D", 32), (2241, 1227, "C", 32)]:
    T(x, y, s, fs, color="white")
for p0, p1 in [((2217, 591), (2263, 514)), ((2253, 756), (2300, 679)), ((2241, 859), (2196, 937)), ((2268, 1038), (2179, 1075)), ((2287, 1061), (2240, 1140)), ((2276, 1305), (2192, 1233))]:
    ARW(p0, p1, "white", 4, 28)

# ---------- (c) ----------
T(1860, 1664, "Spot(# SNV):", 31, "bold", ha="left")
map_cmap = LinearSegmentedColormap.from_list("mp", [((v - 1) / 68, c) for v, c in zip(map_levels, map_colors)])
grid = np.full((map_nrows, map_ncols), np.nan)
for r, row in map_table.items():
    for cell in row.split():
        grid[r, int(cell[:-1])] = lv[cell[-1]]
mp = panel(2103, 1870, 2587, 2382, (0, map_ncols), (map_nrows, 0))
mp.imshow(grid, cmap=map_cmap, vmin=1, vmax=69, extent=(0, map_ncols, map_nrows, 0), interpolation="nearest", aspect="auto")
mp.add_patch(Rectangle((0, 0), map_ncols, map_nrows, fill=False, edgecolor="#c8c8c8", lw=3.5 * PT, clip_on=False))
for cx, cy, rx, ry in circle_spec:
    ax.add_patch(Ellipse((cx, cy), rx * 2, ry * 2, fill=False, edgecolor="#ee0000", lw=9 * PT, linestyle=(0, (3.2, 1.3))))
for x, y, s in [(2150, 1772, "C(49)"), (2415, 1768, "B(38)"), (2599, 1765, "A(72)"), (2029, 2140, "F(111)"), (2074, 2463, "D(38)"), (2330, 2464, "E(207)")]:
    T(x, y, s, 35)
ax.add_patch(Rectangle((2627, 2027), 203, 170, facecolor="white", edgecolor="#a6a6a6", lw=8 * PT))
T(2707, 2076, "SNV", 36, color="#7f7f7f")
T(2714, 2143, "floor", 36, color="#7f7f7f")
ARW((2627, 2085), (2291, 2183), "#a6a6a6", 8, 46, "->")
cb = panel(2544, 2527, 2614, 2679, (0, 1), (1, 69))
cb.imshow(np.array(map_levels).reshape(-1, 1), cmap=map_cmap, vmin=1, vmax=69, origin="lower", extent=(0, 1, 1, 69), interpolation="bicubic", aspect="auto")
cb.set_xlim(0, 1)
cb.set_ylim(1, 69)
T(2481, 2548, "69", 25, color="#333333")
T(2491, 2679, "1", 25, color="#333333")
for y, s in [(2570, "# of SNV"), (2620, "per meta-"), (2669, "SNV")]:
    T(2306, y, s, 27, color="#333333")

fig.savefig("out.png", dpi=100, facecolor="white")
